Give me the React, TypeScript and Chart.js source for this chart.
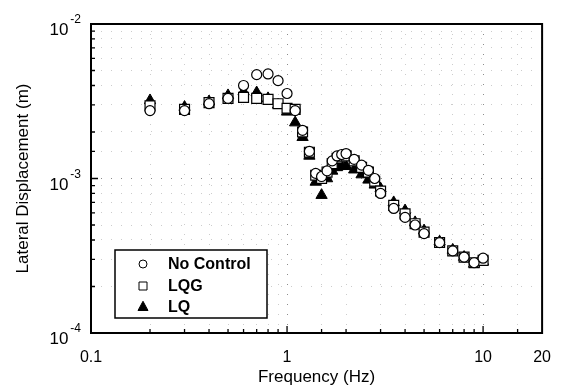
import React, { useEffect, useRef } from 'react';
import { Chart, registerables } from 'chart.js';

Chart.register(...registerables);

const frequencies = [0.2, 0.3, 0.4, 0.5, 0.6, 0.7, 0.8, 0.9, 1.0, 1.1, 1.2, 1.3, 1.4, 1.5, 1.6, 1.7, 1.8, 1.9, 2.0, 2.2, 2.4, 2.6, 2.8, 3.0, 3.5, 4.0, 4.5, 5.0, 6.0, 7.0, 8.0, 9.0, 10];
const noControl = [2.75e-3, 2.75e-3, 3.05e-3, 3.3e-3, 4.0e-3, 4.7e-3, 4.75e-3, 4.3e-3, 3.55e-3, 2.75e-3, 2.05e-3, 1.5e-3, 1.08e-3, 1.03e-3, 1.12e-3, 1.3e-3, 1.4e-3, 1.43e-3, 1.45e-3, 1.33e-3, 1.22e-3, 1.13e-3, 1.0e-3, 8.0e-4, 6.4e-4, 5.6e-4, 5.0e-4, 4.4e-4, 3.85e-4, 3.4e-4, 3.1e-4, 2.85e-4, 3.05e-4];
const lqg = [2.95e-3, 2.8e-3, 3.1e-3, 3.3e-3, 3.35e-3, 3.3e-3, 3.25e-3, 3.05e-3, 2.85e-3, 2.8e-3, 2.0e-3, 1.48e-3, 1.05e-3, 1.0e-3, 1.1e-3, 1.25e-3, 1.35e-3, 1.38e-3, 1.4e-3, 1.3e-3, 1.18e-3, 1.1e-3, 9.6e-4, 8.3e-4, 6.7e-4, 5.9e-4, 5.1e-4, 4.5e-4, 3.85e-4, 3.4e-4, 3.1e-4, 2.85e-4, 2.95e-4];
const lq = [3.2e-3, 2.9e-3, 3.15e-3, 3.45e-3, 3.65e-3, 3.6e-3, 3.3e-3, 3.0e-3, 2.7e-3, 2.3e-3, 1.85e-3, 1.4e-3, 9.5e-4, 7.8e-4, 1.0e-3, 1.12e-3, 1.18e-3, 1.2e-3, 1.2e-3, 1.14e-3, 1.06e-3, 9.8e-4, 9.1e-4, 8.6e-4, 7.0e-4, 6.2e-4, 5.2e-4, 4.6e-4, 3.9e-4, 3.45e-4, 3.1e-4, 2.8e-4, 2.9e-4];

const seriesLabels = ['No Control', 'LQG', 'LQ'];
const xTickValues = [0.1, 1, 10, 20];
const xTickLabels = ['0.1', '1', '10', '20'];
const yTickValues = [1e-4, 1e-3, 1e-2];
const yTickBase = '10';
const yTickExponents = ['-4', '-3', '-2'];

const FONT = '"Liberation Sans", Arial, Helvetica, sans-serif';

const near = (a: number, b: number) => Math.abs(a - b) / b < 1e-6;

function toPoints(vals: number[]) {
  return frequencies.map((f, i) => ({ x: f, y: vals[i] }));
}

function drawMarker(ctx: CanvasRenderingContext2D, style: string, x: number, y: number, r: number, fill: string) {
  ctx.beginPath();
  if (style === 'circle') {
    ctx.arc(x, y, r, 0, Math.PI * 2);
  } else if (style === 'rect') {
    ctx.rect(x - r, y - r, 2 * r, 2 * r);
  } else {
    ctx.moveTo(x, y - r * 1.15);
    ctx.lineTo(x + r, y + r * 0.7);
    ctx.lineTo(x - r, y + r * 0.7);
    ctx.closePath();
  }
  ctx.fillStyle = fill;
  ctx.fill();
  ctx.strokeStyle = '#000';
  ctx.lineWidth = 1;
  ctx.stroke();
}

const gridColor = (majors: number[]) => (c: any) => {
  const v = c.tick ? c.tick.value : NaN;
  return majors.some((m) => near(v, m)) ? 'rgba(0,0,0,0.45)' : 'rgba(0,0,0,0.2)';
};

const framePlugin = {
  id: 'frameTicks',
  afterDatasetsDraw(chart: any) {
    const { ctx, chartArea } = chart;
    const { left, right, top, bottom } = chartArea;
    ctx.save();
    ctx.strokeStyle = '#000';
    ctx.lineWidth = 2;
    ctx.strokeRect(left, top, right - left, bottom - top);
    ctx.lineWidth = 1.3;
    ctx.beginPath();
    const xs = chart.scales.x;
    xs.ticks.forEach((t: any) => {
      const px = xs.getPixelForValue(t.value);
      if (px <= left + 1 || px >= right - 1) return;
      const major = xTickValues.some((v) => near(t.value, v));
      const len = major ? 7 : 4;
      ctx.moveTo(px, bottom);
      ctx.lineTo(px, bottom - len);
    });
    const ys = chart.scales.y;
    ys.ticks.forEach((t: any) => {
      const py = ys.getPixelForValue(t.value);
      if (py <= top + 1 || py >= bottom - 1) return;
      const major = yTickValues.some((v) => near(t.value, v));
      const len = major ? 7 : 4;
      ctx.moveTo(left, py);
      ctx.lineTo(left + len, py);
    });
    ctx.stroke();

    // y tick labels with superscript exponents
    ctx.fillStyle = '#000';
    ctx.textBaseline = 'alphabetic';
    yTickValues.forEach((v, i) => {
      const py = ys.getPixelForValue(v);
      ctx.font = `12px ${FONT}`;
      ctx.textAlign = 'right';
      const expRight = left - 10;
      const expW = ctx.measureText(yTickExponents[i]).width;
      ctx.fillText(yTickExponents[i], expRight, py - 1);
      ctx.font = `17px ${FONT}`;
      ctx.fillText(yTickBase, expRight - expW - 2, py + 11);
    });
    ctx.restore();
  },
  afterDraw(chart: any) {
    const { ctx, chartArea } = chart;
    const bx = chartArea.left + 24;
    const by = chartArea.bottom - 83;
    const bw = 152;
    const bh = 68;
    ctx.save();
    ctx.fillStyle = '#fff';
    ctx.fillRect(bx, by, bw, bh);
    ctx.strokeStyle = '#000';
    ctx.lineWidth = 1.5;
    ctx.strokeRect(bx, by, bw, bh);
    const rows = [by + 14, by + 36, by + 57];
    const styles = ['circle', 'rect', 'triangle'];
    const fills = ['#fff', '#fff', '#000'];
    const radii = [4, 4, 5];
    chart.data.datasets.forEach((ds: any, i: number) => {
      drawMarker(ctx, styles[i], bx + 28, rows[i], radii[i], fills[i]);
      ctx.fillStyle = '#000';
      ctx.font = `bold 16px ${FONT}`;
      ctx.textBaseline = 'middle';
      ctx.textAlign = 'left';
      ctx.fillText(ds.label, bx + 53, rows[i] + 1);
    });
    ctx.restore();
  },
};

export default function App() {
  const ref = useRef<HTMLCanvasElement | null>(null);
  useEffect(() => {
    if (!ref.current) return;
    const chart = new Chart(ref.current, {
      type: 'scatter',
      data: {
        datasets: [
          {
            label: seriesLabels[0],
            data: toPoints(noControl),
            pointStyle: 'circle',
            pointRadius: 5,
            backgroundColor: '#fff',
            borderColor: '#000',
            borderWidth: 1.2,
          },
          {
            label: seriesLabels[1],
            data: toPoints(lqg),
            pointStyle: 'rect',
            pointRadius: 7,
            backgroundColor: '#fff',
            borderColor: '#000',
            borderWidth: 1.2,
          },
          {
            label: seriesLabels[2],
            data: toPoints(lq),
            pointStyle: 'triangle',
            pointRadius: 6.5,
            backgroundColor: '#000',
            borderColor: '#000',
            borderWidth: 1,
          },
        ],
      },
      options: {
        responsive: false,
        animation: false,
        layout: { padding: { top: 24, right: 11, left: 0, bottom: 0 } },
        plugins: {
          legend: { display: false },
          tooltip: { enabled: false },
        },
        scales: {
          x: {
            type: 'logarithmic',
            min: 0.1,
            max: 20,
            border: { display: false, dash: [1, 9] },
            grid: { drawTicks: false, color: gridColor(xTickValues), lineWidth: 1 },
            ticks: {
              autoSkip: false,
              maxRotation: 0,
              padding: 15,
              color: '#000',
              font: { size: 16, family: FONT },
              callback: (v: any) => {
                const i = xTickValues.findIndex((t) => near(Number(v), t));
                return i >= 0 ? xTickLabels[i] : '';
              },
            },
            title: {
              display: true,
              text: 'Frequency (Hz)',
              color: '#000',
              font: { size: 17, family: FONT },
              padding: { top: 0, bottom: 4 },
            },
            afterFit: (s: any) => {
              s.height = 59;
            },
          },
          y: {
            type: 'logarithmic',
            min: 1e-4,
            max: 1e-2,
            border: { display: false, dash: [1, 9] },
            grid: { drawTicks: false, color: gridColor(yTickValues), lineWidth: 1 },
            ticks: {
              display: false,
              autoSkip: false,
            },
            title: {
              display: true,
              text: 'Lateral Displacement (m)',
              color: '#000',
              font: { size: 17, family: FONT },
              padding: { top: 13, bottom: 0 },
            },
            afterFit: (s: any) => {
              s.width = 91;
            },
          },
        },
      },
      plugins: [framePlugin],
    });
    return () => chart.destroy();
  }, []);
  return (
    <div style={{ position: 'absolute', left: 0, top: 0, width: 566, height: 392, background: '#fff' }}>
      <canvas ref={ref} width={566} height={392} />
    </div>
  );
}
